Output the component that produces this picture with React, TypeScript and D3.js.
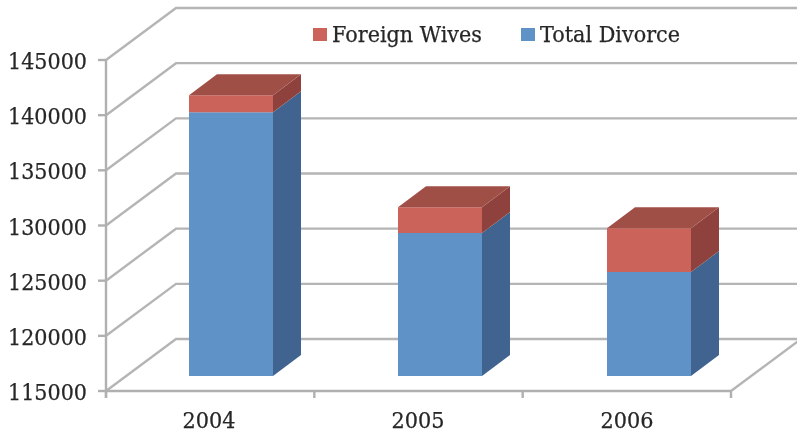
import React from "react";
import * as d3 from "d3";

const years = ["2004", "2005", "2006"];
const totalDivorce = [138900, 127950, 124420];
const foreignWives = [1550, 2350, 3980];
const yTicks = [115000, 120000, 125000, 130000, 135000, 140000, 145000];
const legendItems = ["Foreign Wives", "Total Divorce"];

const FONT = "'DejaVu Serif', serif";
const GRID = "#b5b5b5";
const AXIS_COLOR = "#b0b0b0";
const TEXT = "#262626";

// axis-plane scales
const x = d3.scaleBand<string>().domain(years).range([106, 731]);
const y = d3.scaleLinear().domain([115000, 145000]).range([391, 60]);
const barCenter = d3.scalePoint<string>().domain(years).range([231, 649]);
const labelCenter = d3.scalePoint<string>().domain(years).range([209, 627]);

// oblique projection
const wallDx = 70, wallDy = -52;
const barDy = -15;
const depthDx = 28, depthDy = -21;
const barWidth = 84;

const poly = (pts: [number, number][]) => d3.line()(pts) + "Z";

function Segment({ left, low, high, front, side, top }: {
  left: number; low: number; high: number; front: string; side: string; top?: string;
}) {
  const r = left + barWidth;
  return (
    <g>
      <path d={poly([[r, high], [r + depthDx, high + depthDy], [r + depthDx, low + depthDy], [r, low]])} fill={side} />
      <path d={poly([[left, high], [r, high], [r, low], [left, low]])} fill={front} />
      {top && (
        <path d={poly([[left, high], [left + depthDx, high + depthDy], [r + depthDx, high + depthDy], [r, high]])} fill={top} />
      )}
    </g>
  );
}

export default function App() {
  const [x0, x1] = x.range();
  const base = y(115000);
  const ink = { fontFamily: FONT, fontSize: 22, fill: TEXT, stroke: TEXT, strokeWidth: 0.25 };
  return (
    <svg width={797} height={432} style={{ position: "absolute", left: 0, top: 0, background: "#fff" }}>
      <defs>
        <filter id="soft" x="-5%" y="-5%" width="110%" height="110%">
          <feGaussianBlur stdDeviation="0.6" />
        </filter>
      </defs>
      <g filter="url(#soft)">
        {/* walls */}
        {yTicks.map((t) => (
          <path key={t} fill="none" stroke={GRID} strokeWidth={2.4}
            d={d3.line()([[x0, y(t)], [x0 + wallDx, y(t) + wallDy], [800, y(t) + wallDy]])!} />
        ))}
        <path fill="none" stroke={GRID} strokeWidth={2.4}
          d={d3.line()([[x1, base], [x1 + wallDx, base + wallDy]])!} />

        {/* axes */}
        <line x1={x0} x2={x0} y1={y(145000)} y2={base + 7} stroke={AXIS_COLOR} strokeWidth={2.4} />
        <line x1={x0} x2={x1} y1={base} y2={base} stroke={AXIS_COLOR} strokeWidth={2.4} />
        {yTicks.map((t) => (
          <line key={t} x1={x0 - 8} x2={x0} y1={y(t)} y2={y(t)} stroke={AXIS_COLOR} strokeWidth={2.4} />
        ))}
        {[...years.map((c) => x(c)!), x1].map((p, i) => (
          <line key={i} x1={p} x2={p} y1={base} y2={base + 7} stroke={AXIS_COLOR} strokeWidth={2.4} />
        ))}

        {/* bars */}
        {years.map((c, i) => {
          const left = barCenter(c)! - barWidth / 2;
          const b = y(115000) + barDy;
          const m = y(totalDivorce[i]) + barDy;
          const t = y(totalDivorce[i] + foreignWives[i]) + barDy;
          return (
            <g key={c}>
              <Segment left={left} low={b} high={m} front="#5f92c6" side="#40648f" />
              <Segment left={left} low={m} high={t} front="#cb635a" side="#8f433c" top="#a04f47" />
            </g>
          );
        })}

        {/* text */}
        {yTicks.map((t) => (
          <text key={t} x={8} y={y(t) + 9} {...ink} textLength={79} lengthAdjust="spacingAndGlyphs">{t}</text>
        ))}
        {years.map((c) => (
          <text key={c} x={labelCenter(c)! - 26.5} y={428} {...ink} textLength={53} lengthAdjust="spacingAndGlyphs">{c}</text>
        ))}

        {/* legend */}
        <rect x={313} y={28} width={14} height={13} fill="#cb635a" />
        <text x={332} y={42} {...ink} textLength={150} lengthAdjust="spacingAndGlyphs">{legendItems[0]}</text>
        <rect x={521} y={28} width={14} height={13} fill="#5f92c6" />
        <text x={540} y={42} {...ink} textLength={140} lengthAdjust="spacingAndGlyphs">{legendItems[1]}</text>
      </g>
    </svg>
  );
}
